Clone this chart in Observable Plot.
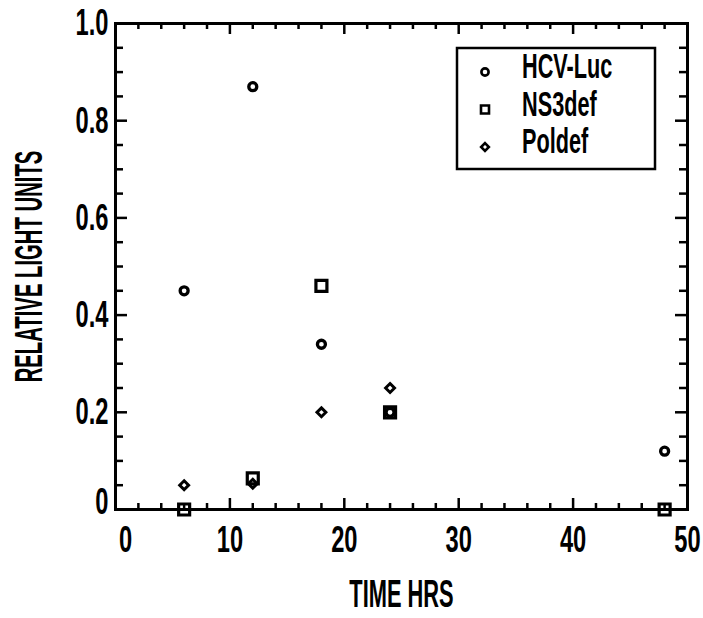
<!DOCTYPE html>
<html><head><meta charset="utf-8">
<script src="https://cdn.jsdelivr.net/npm/d3@7"></script>
<script src="https://cdn.jsdelivr.net/npm/@observablehq/plot@0.6"></script>
<style>
html,body{margin:0;padding:0;background:#fff;}
#chart{width:703px;height:618px;}
</style></head><body><div id="chart"></div>
<script>
// ---- data ----
const hours  = [6, 12, 18, 24, 48];
const hcvLuc = [0.45, 0.87, 0.34, 0.20, 0.12];
const ns3def = [0.00, 0.064, 0.46, 0.20, 0.00];
const poldef = [0.05, 0.053, 0.20, 0.25, null];
const seriesNames = ["HCV-Luc", "NS3def", "Poldef"];
const xTicks = [0, 10, 20, 30, 40, 50];
const yTicks = [0, 0.2, 0.4, 0.6, 0.8, 1.0];
const xTitle = "TIME HRS";
const yTitle = "RELATIVE LIGHT UNITS";

// ---- layout ----
const W = 703, H = 618, mL = 115, mR = 16, mT = 23, mB = 109;
const FW = W - mL - mR, FH = H - mT - mB;
const FONT = "'Liberation Sans', Arial, sans-serif";
const xMinor = d3.range(0, 51, 2).filter(v => !xTicks.includes(v));
const yMinor = d3.range(0, 21).map(i => i * 0.05).filter(v => !yTicks.some(t => Math.abs(t - v) < 1e-9));
const rows = vals => hours.map((h, i) => ({h, v: vals[i]})).filter(d => d.v != null);
const fmtY = d => d === 0 ? "0" : d.toFixed(1);
const diamond = d3.symbolDiamond2 || "diamond";

const tickStyle = {stroke: "black", strokeWidth: 2.5};
const txt = {fill: "black", fontWeight: "bold"};

const svg = Plot.plot({
  width: W, height: H,
  marginLeft: mL, marginRight: mR, marginTop: mT, marginBottom: mB,
  style: {fontFamily: FONT, background: "white", color: "black"},
  x: {domain: [0, 50], axis: null},
  y: {domain: [0, 1], axis: null},
  marks: [
    // inward ticks on all four sides
    Plot.tickX(xTicks, {x: d => d, insetTop: FH - 11, ...tickStyle}),
    Plot.tickX(xMinor, {x: d => d, insetTop: FH - 6, ...tickStyle}),
    Plot.tickX(xTicks, {x: d => d, insetBottom: FH - 11, ...tickStyle}),
    Plot.tickX(xMinor, {x: d => d, insetBottom: FH - 6, ...tickStyle}),
    Plot.tickY(yTicks, {y: d => d, insetRight: FW - 12, ...tickStyle}),
    Plot.tickY(yMinor, {y: d => d, insetRight: FW - 8, ...tickStyle}),
    Plot.tickY(yTicks, {y: d => d, insetLeft: FW - 12, ...tickStyle}),
    Plot.tickY(yMinor, {y: d => d, insetLeft: FW - 8, ...tickStyle}),
    Plot.frame({stroke: "black", strokeWidth: 3}),
    // tick labels
    Plot.text(xTicks.filter(d => d !== 0), {x: d => d, frameAnchor: "bottom", dy: 31, lineAnchor: "middle", textAnchor: "middle", fontSize: 37, text: d => String(d), ...txt}),
    Plot.text([0], {x: d => d, frameAnchor: "bottom", dy: 31, dx: 10, lineAnchor: "middle", textAnchor: "middle", fontSize: 37, text: d => String(d), ...txt}),
    Plot.text(yTicks.filter(d => d !== 0), {y: d => d, frameAnchor: "left", dx: -7, lineAnchor: "middle", textAnchor: "end", fontSize: 37, text: fmtY, ...txt}),
    Plot.text([0], {y: d => d, frameAnchor: "left", dx: -7, dy: -7, lineAnchor: "middle", textAnchor: "end", fontSize: 37, text: fmtY, ...txt}),
    // axis titles
    Plot.text([xTitle], {frameAnchor: "bottom", dy: 85, lineAnchor: "middle", textAnchor: "middle", fontSize: 39, text: d => d, ...txt}),
    Plot.text([yTitle], {frameAnchor: "left", dx: -86, rotate: -90, lineAnchor: "middle", textAnchor: "middle", fontSize: 39, text: d => d, ...txt}),
    // data
    Plot.dot(rows(hcvLuc), {x: "h", y: "v", r: 4, fill: "none", stroke: "black", strokeWidth: 3.3}),
    Plot.dot(rows(ns3def), {x: "h", y: "v", symbol: "square", r: 6.2, fill: "none", stroke: "black", strokeWidth: 3.2}),
    Plot.dot(rows(poldef), {x: "h", y: "v", symbol: diamond, r: 4, fill: "none", stroke: "black", strokeWidth: 3})
  ]
});

// ---- condense text glyphs horizontally (narrow typeface) ----
function condense(t, s) {
  let tr = t.getAttribute("transform") || "";
  const x = t.getAttribute("x");
  if (x != null && isFinite(+x) && +x !== 0) {
    tr += ` translate(${+x},0)`;
    t.removeAttribute("x");
  }
  t.setAttribute("transform", `${tr} scale(${s},1)`);
}
svg.querySelectorAll("text").forEach(t => {
  const c = t.textContent;
  const s = c === yTitle ? 0.52 : c === xTitle ? 0.56 : 0.64;
  condense(t, s);
});

// ---- legend (inside the frame, top right) ----
const lg = d3.select(svg).append("g").attr("aria-label", "legend");
const boxR = W - mR - 32, boxT = mT + 25, boxW = 198, boxH = 121;
lg.append("rect").attr("x", boxR - boxW).attr("y", boxT).attr("width", boxW).attr("height", boxH)
  .attr("fill", "white").attr("stroke", "black").attr("stroke-width", 2.5);
const legSym = [d3.symbol(d3.symbolCircle, Math.PI * 3.6 * 3.6)(),
                d3.symbol(d3.symbolSquare, 64)(),
                d3.symbol(d3.symbolDiamond2 || d3.symbolDiamond, 38)()];
seriesNames.forEach((name, i) => {
  const cy = boxT + 24 + i * 37.5;
  lg.append("path").attr("d", legSym[i]).attr("transform", `translate(${boxR - boxW + 28},${cy})`)
    .attr("fill", "none").attr("stroke", "black").attr("stroke-width", 2.6);
  const t = lg.append("text").attr("transform", `translate(${boxR - boxW + 65},${cy + 6})`)
    .attr("text-anchor", "start").attr("font-size", 35).attr("font-weight", "bold")
    .attr("fill", "black").text(name).node();
  condense(t, 0.62);
});

document.getElementById("chart").appendChild(svg);
</script>
</body></html>
